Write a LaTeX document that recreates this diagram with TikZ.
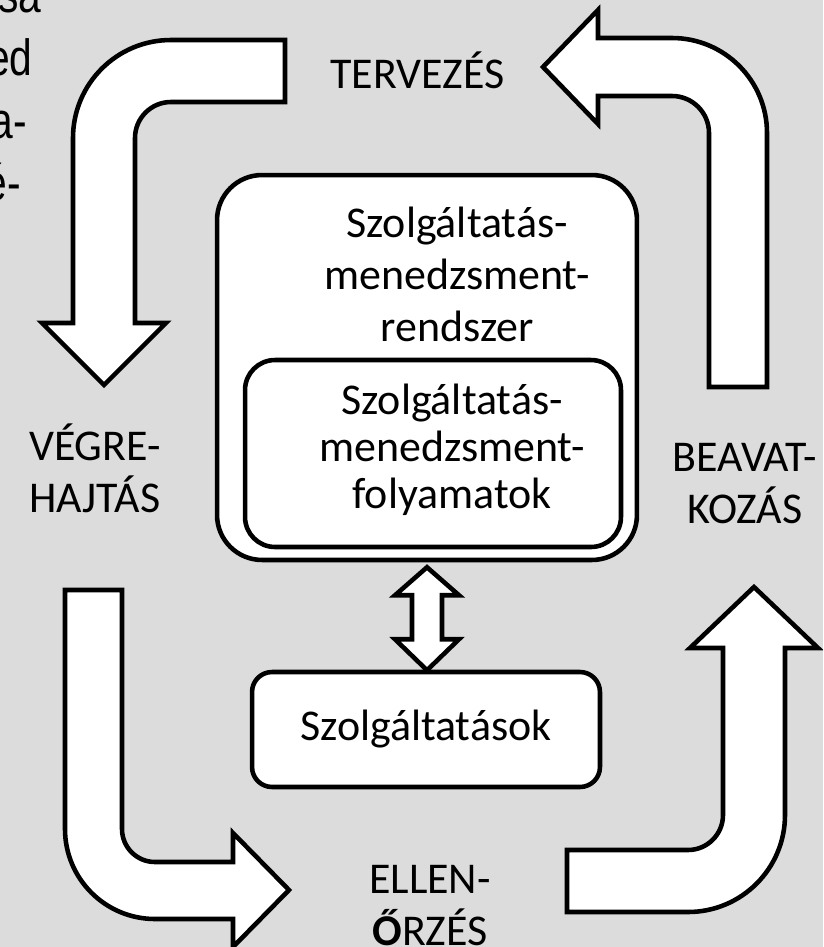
\documentclass[tikz,border=0pt]{standalone}
\usepackage{fontspec}
\setmainfont{Carlito}
\newfontfamily\fragfont{Liberation Sans}[FakeStretch=0.8]
\usetikzlibrary{calc}
\definecolor{slidegray}{RGB}{220,220,220}

\begin{document}
\begin{tikzpicture}[
    x=0.02cm, y=-0.02cm,
    every node/.style={font=\fontsize{25}{29.5}\selectfont},
    box/.style={draw, line width=2.6pt, fill=white, inner sep=0pt},
    lbl/.style={align=center, inner sep=0pt, anchor=base},
    bigarrow/.style={draw, line width=2.6pt, fill=white}
]
\clip (0,0) rectangle (823,947);
\fill[slidegray] (0,0) rectangle (823,947);

% cut-off text at the left edge
\foreach \t/\x/\y [count=\i] in {sa/42/12, ed/33/75, a-/27/138, é-/21/200}
  \node[anchor=base east, inner sep=0pt, font=\fragfont\fontsize{29}{35}\selectfont] (frag\i) at (\x,\y) {\t};

% boxes (base anchor = last line)
\node[box, rounded corners=0.9cm, minimum width=8.4cm, minimum height=7.7cm] (sms) at (427,367.5) {};
\node[lbl] (smstxt) at (457,341) {Szolgáltatás-\\menedzsment-\\rendszer};
\node[box, rounded corners=0.6cm, minimum width=7.52cm, minimum height=3.74cm] (smp) at (433,453.5) {};
\node[lbl, font=\fontsize{25}{26.5}\selectfont] (smptxt) at (452,508) {Szolgáltatás-\\menedzsment-\\folyamatok};
\node[box, rounded corners=0.4cm, minimum width=6.96cm, minimum height=2.3cm] (svc) at (426,729.5) {Szolgáltatások\hspace{0.35cm}};

% cycle labels
\node[lbl] (plan) at (417.5,88) {TERVEZÉS};
\node[lbl] (do) at (95,512) {VÉGRE-\\HAJTÁS};
\node[lbl] (act) at (745,523) {BEAVAT-\\KOZÁS};
\node[lbl] (check) at (430,945) {ELLEN-\\\textbf{Ő}RZÉS};

% double arrow between the boxes
\draw[bigarrow] ($(sms.south)+(0,5)$) -- ++(32,28) -- ++(-17,0) -- ++(0,44) -- ++(17,0)
  -- ++(-32,31) -- ++(-32,-31) -- ++(17,0) -- ++(0,-44) -- ++(-17,0) -- cycle;

% curved block arrows
\draw[bigarrow] (285,40) -- (171,40) arc[start angle=270, end angle=180, radius=98]
  -- (73,323) -- (42,323) -- (104,385) -- (166,323) -- (135,323) -- (135,138)
  arc[start angle=180, end angle=270, radius=36] -- (285,102) -- cycle;
\draw[bigarrow] (709,387) -- (709,133) arc[start angle=0, end angle=-90, radius=37]
  -- (598,96) -- (598,124) -- (543,67) -- (598,10) -- (598,38) -- (672,38)
  arc[start angle=-90, end angle=0, radius=95] -- (767,387) -- cycle;
\draw[bigarrow] (65,590) -- (65,829) arc[start angle=180, end angle=90, radius=90]
  -- (233,919) -- (233,947) -- (289,890) -- (233,833) -- (233,862) -- (155,862)
  arc[start angle=90, end angle=180, radius=33] -- (122,590) -- cycle;
\draw[bigarrow] (567,850) -- (688,850) arc[start angle=90, end angle=0, radius=35]
  -- (723,648) -- (690,648) -- (754,587) -- (818,648) -- (785,648) -- (785,815)
  arc[start angle=0, end angle=90, radius=97] -- (567,912) -- cycle;
\end{tikzpicture}
\end{document}
